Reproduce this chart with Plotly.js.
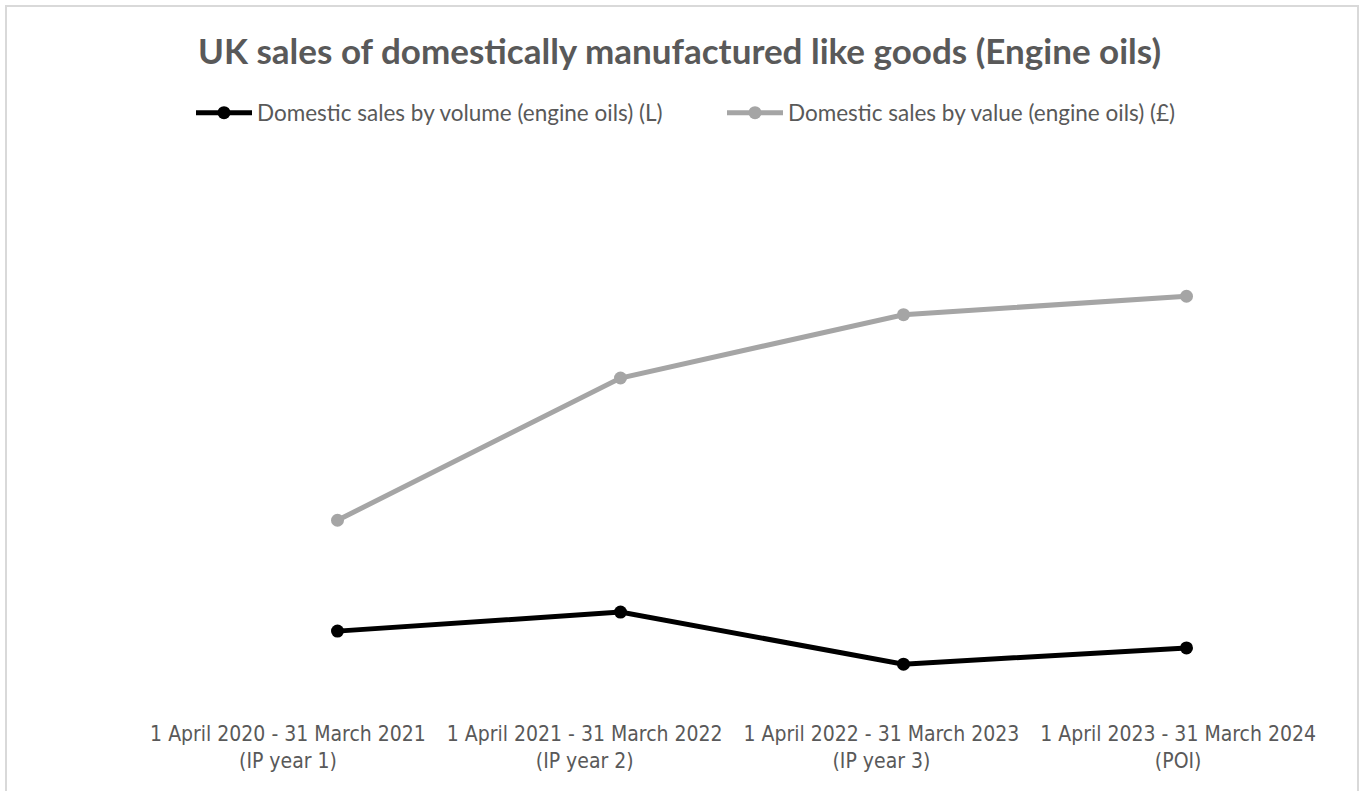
<!DOCTYPE html>
<html>
<head>
<meta charset="utf-8">
<script src="https://cdn.plot.ly/plotly-3.0.1.min.js"></script>
<style>
  html, body { margin: 0; padding: 0; background: #fff; overflow: hidden; }
  #chart { width: 1359px; height: 791px; }
  #frame { position: absolute; left: 5px; top: 5px; width: 1354px; height: 800px;
           border: 2px solid #d9d9d9; pointer-events: none; box-sizing: border-box; }
</style>
</head>
<body>
<div id="chart"></div>
<div id="frame"></div>
<script>
// Category labels (x axis)
const categories = [
  "1 April 2020 - 31 March 2021<br>(IP year 1)",
  "1 April 2021 - 31 March 2022<br>(IP year 2)",
  "1 April 2022 - 31 March 2023<br>(IP year 3)",
  "1 April 2023 - 31 March 2024<br>(POI)"
];
// Series values (indexed, no axis scale shown in the original)
const volumeSeries = [12.3, 15.7, 6.4, 9.3];
const valueSeries = [32.1, 57.5, 68.8, 72.1];

const volumeName = "Domestic sales by volume (engine oils) (L)";
const valueName = "Domestic sales by value (engine oils) (£)";

const traces = [
  {
    x: categories, y: volumeSeries, name: volumeName,
    type: "scatter", mode: "lines+markers",
    line: { color: "#000000", width: 5 },
    marker: { color: "#000000", size: 13 }
  },
  {
    x: categories, y: valueSeries, name: valueName,
    type: "scatter", mode: "lines+markers",
    line: { color: "#a5a5a5", width: 5 },
    marker: { color: "#a5a5a5", size: 13 }
  },
  // invisible helper so the label axis (x2) is drawn
  {
    x: categories, y: volumeSeries, xaxis: "x2", yaxis: "y",
    type: "scatter", mode: "lines", line: { width: 0, color: "rgba(0,0,0,0)" },
    showlegend: false, hoverinfo: "skip"
  }
];

const tickFont = { family: "'Liberation Sans Narrow', 'DejaVu Sans Condensed', sans-serif", size: 21, color: "#595959" };

const layout = {
  width: 1359, height: 791,
  margin: { l: 196, r: 31, t: 140, b: 91, pad: 0 },
  paper_bgcolor: "#ffffff", plot_bgcolor: "#ffffff",
  title: {
    text: "<b>UK sales of domestically manufactured like goods (Engine oils)</b>",
    font: { family: "Lato, 'Open Sans', sans-serif", size: 35, color: "#595959" },
    x: 0.5, xanchor: "center", y: 1 - 52 / 791, yanchor: "middle", yref: "container"
  },
  showlegend: true,
  legend: {
    orientation: "h", x: -5 / 1132, xanchor: "left", y: 1 + 27 / 560, yanchor: "middle",
    font: { family: "Lato, 'Open Sans', sans-serif", size: 22.5, color: "#595959" },
    itemwidth: 56, entrywidth: 460, entrywidthmode: "pixels",
    tracegroupgap: 0, traceorder: "normal"
  },
  xaxis: {
    type: "category", range: [-0.5, 3.5], showgrid: false, zeroline: false, showline: false,
    ticks: "", showticklabels: false, fixedrange: true
  },
  // label axis: the original draws its category labels slightly offset from the points
  xaxis2: {
    overlaying: "x", anchor: "y", side: "bottom", type: "category",
    range: [-0.31, 3.505],
    showgrid: false, zeroline: false, showline: false, ticks: "",
    ticklabelstandoff: 19, tickfont: tickFont, fixedrange: true
  },
  yaxis: {
    range: [0, 100], visible: false, showgrid: false, zeroline: false, fixedrange: true
  }
};

Plotly.newPlot("chart", traces, layout, { displayModeBar: false, staticPlot: true });
</script>
</body>
</html>
